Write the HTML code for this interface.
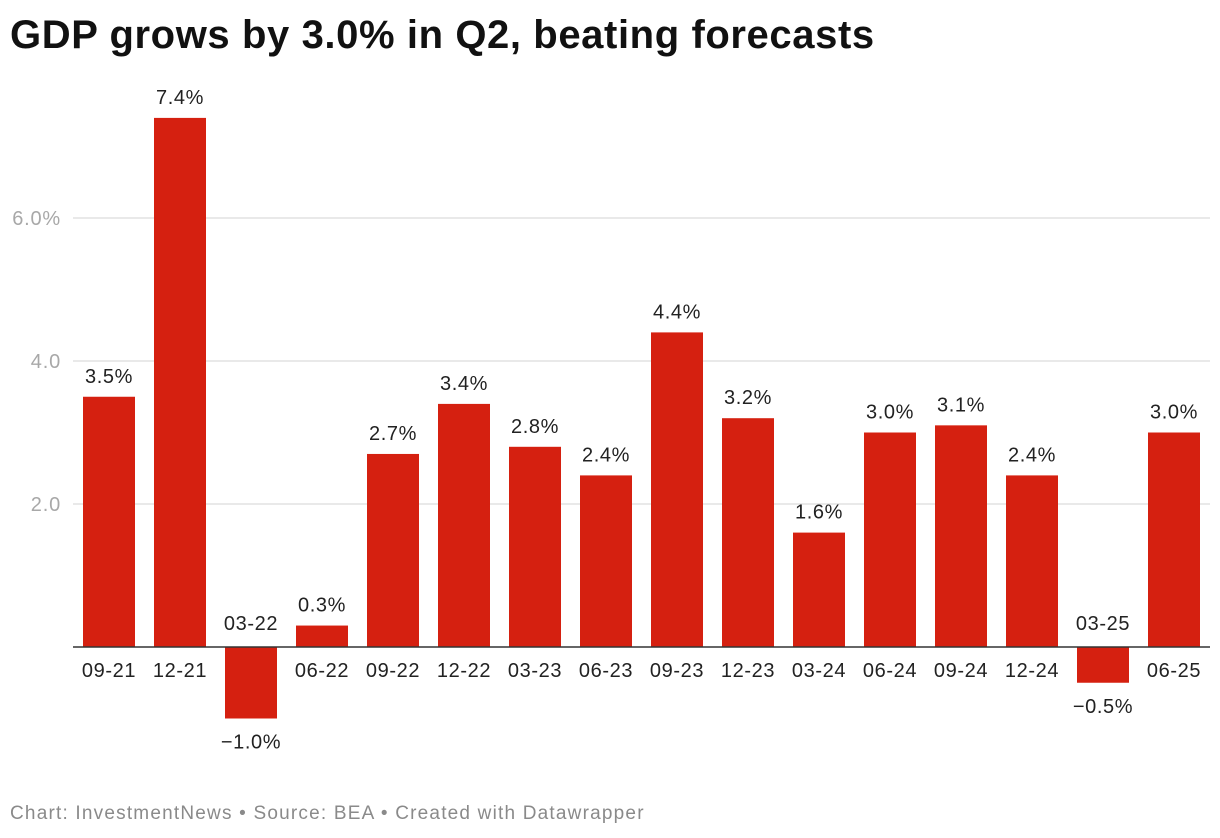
<!DOCTYPE html>
<html><head><meta charset="utf-8"><style>
body{margin:0;background:#fff;font-family:"Liberation Sans",sans-serif;}
#wrap{position:relative;width:1220px;height:838px;overflow:hidden;}
h1{position:absolute;left:10px;top:13px;margin:0;font-size:40px;font-weight:bold;color:#111;letter-spacing:0.6px;}
#foot{position:absolute;left:10px;top:803px;font-size:19px;color:#8a8a8a;letter-spacing:1.2px;}
</style></head><body>
<div id="wrap">
<h1>GDP grows by 3.0% in Q2, beating forecasts</h1>
<svg id="chart" width="1220" height="838" style="position:absolute;left:0;top:0"></svg>
<div id="foot">Chart: InvestmentNews • Source: BEA • Created with Datawrapper</div>
</div>
<script>
const categories=["09-21","12-21","03-22","06-22","09-22","12-22","03-23","06-23","09-23","12-23","03-24","06-24","09-24","12-24","03-25","06-25"];
const values=[3.5,7.4,-1.0,0.3,2.7,3.4,2.8,2.4,4.4,3.2,1.6,3.0,3.1,2.4,-0.5,3.0];
const ticks=[2,4,6];
const tickLabels=["2.0","4.0","6.0%"];
const NS="http://www.w3.org/2000/svg";
const svg=document.getElementById('chart');
const zeroY=647,unit=71.5,x0=83,step=71,bw=52;
const y=v=>zeroY-v*unit;
const x=i=>x0+i*step;
function mk(t,a){const e=document.createElementNS(NS,t);for(const k in a)e.setAttribute(k,a[k]);svg.appendChild(e);return e;}
ticks.forEach((t,i)=>{
  const l=mk('line',{x1:73,x2:1210,y1:y(t),y2:y(t),stroke:'#e2e2e2','stroke-width':1.5});
  
  
  const tx=mk('text',{x:61,y:y(t)+7,'text-anchor':'end','font-size':20,fill:'#a8a8a8','font-family':'Liberation Sans, sans-serif','letter-spacing':0.8});
  tx.textContent=tickLabels[i];
  
  
});
values.forEach((v,i)=>{
  const top=Math.min(y(v),zeroY),h=Math.abs(y(v)-zeroY);
  const r=mk('rect',{x:x(i),y:top,width:bw,height:h,fill:'#d52010'});
  
  
  const cx=x(i)+bw/2;
  const vl=mk('text',{x:cx,y:v>=0?y(v)-14:y(v)+30,'text-anchor':'middle','font-size':20,fill:'#222','font-family':'Liberation Sans, sans-serif','letter-spacing':0.6});
  vl.textContent=(v<0?'\u2212':'')+Math.abs(v).toFixed(1)+'%';
  
  
  const cl=mk('text',{x:cx,y:v>=0?zeroY+30:zeroY-17,'text-anchor':'middle','font-size':20,fill:'#222','font-family':'Liberation Sans, sans-serif','letter-spacing':0.6});
  cl.textContent=categories[i];
  
  
});
const z=mk('line',{x1:73,x2:1210,y1:zeroY,y2:zeroY,stroke:'#333','stroke-width':1.5});


</script>
</body></html>
